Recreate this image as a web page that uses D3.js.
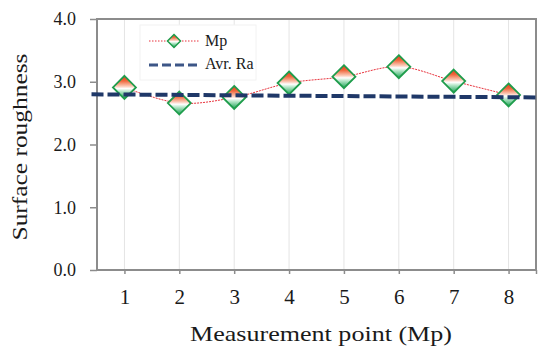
<!DOCTYPE html>
<html>
<head>
<meta charset="utf-8">
<script src="https://cdn.jsdelivr.net/npm/d3@7"></script>
<style>
  html, body { margin: 0; padding: 0; background: #fff; }
  svg { display: block; font-family: "Liberation Serif", "Times New Roman", serif; }
</style>
</head>
<body>
<svg id="chart"></svg>
<script>
const points = [1, 2, 3, 4, 5, 6, 7, 8];
const mpValues = [2.91, 2.66, 2.75, 2.98, 3.08, 3.24, 3.01, 2.79];
// average Ra line, given at its two ends
const avrX = [0.4, 8.5];
const avrValues = [2.80, 2.75];
const yTicks = [0, 1, 2, 3, 4];
const xTitle = "Measurement point (Mp)";
const yTitle = "Surface roughness";
const legendLabels = ["Mp", "Avr. Ra"];

const width = 550;
const height = 357;
const margin = { top: 19, right: 14, bottom: 87, left: 97 };

const svg = d3.select("#chart").attr("width", width).attr("height", height);

const x = d3.scaleLinear()
  .domain([0.5, 8.5])
  .range([margin.left, width - margin.right]);

const y = d3.scaleLinear()
  .domain([0, 4])
  .range([height - margin.bottom, margin.top]);

const defs = svg.append("defs");
const grad = defs.append("linearGradient")
  .attr("id", "mk")
  .attr("x1", 0).attr("y1", 0).attr("x2", 0).attr("y2", 1);
[
  [0, "#e63a17"],
  [0.22, "#f0683e"],
  [0.45, "#fbcbb8"],
  [0.55, "#ffffff"],
  [0.68, "#b4e6c8"],
  [1, "#17a052"],
].forEach(([o, c]) => grad.append("stop").attr("offset", o).attr("stop-color", c));

// vertical grid lines at each measurement point
svg.append("g")
  .selectAll("line")
  .data(points)
  .join("line")
  .attr("x1", (d) => x(d))
  .attr("x2", (d) => x(d))
  .attr("y1", y(0))
  .attr("y2", y(4))
  .attr("stroke", "#e4e4e4")
  .attr("stroke-width", 1);

// axes
const yAxis = svg.append("g")
  .attr("transform", `translate(${margin.left},0)`)
  .call(d3.axisLeft(y).tickValues(yTicks).tickFormat(d3.format(".1f")).tickSize(7).tickPadding(14));

const xAxis = svg.append("g")
  .attr("transform", `translate(0,${y(0)})`)
  .call(d3.axisBottom(x).tickValues(points.concat([8.5])).tickFormat((d) => (d % 1 ? "" : d)).tickSize(4).tickPadding(15));

[yAxis, xAxis].forEach((a) => {
  a.select(".domain").remove();
  a.selectAll(".tick line").attr("stroke", "#8c8c8c").attr("stroke-width", 1.5);
  a.selectAll(".tick text").attr("fill", "#1a1a1a").attr("font-family", "Liberation Serif, serif");
});
yAxis.selectAll(".tick text").attr("font-size", 18);
xAxis.selectAll(".tick text").attr("font-size", 21);

// plot frame
svg.append("rect")
  .attr("x", x(0.5))
  .attr("y", y(4))
  .attr("width", x(8.5) - x(0.5))
  .attr("height", y(0) - y(4))
  .attr("fill", "none")
  .attr("stroke", "#8c8c8c")
  .attr("stroke-width", 2);

// Mp series
const line = d3.line()
  .x((d, i) => x(points[i]))
  .y((d) => y(d))
  .curve(d3.curveCatmullRom.alpha(0.5));

svg.append("path")
  .datum(mpValues)
  .attr("d", line)
  .attr("fill", "none")
  .attr("stroke", "#e8323c")
  .attr("stroke-width", 1)
  .attr("stroke-dasharray", "2,1");

function diamond(r) {
  return `M0,${-r}L${r},0L0,${r}L${-r},0Z`;
}

svg.append("g")
  .selectAll("path")
  .data(mpValues)
  .join("path")
  .attr("transform", (d, i) => `translate(${x(points[i])},${y(d)})`)
  .attr("d", diamond(11.5))
  .attr("fill", "url(#mk)")
  .attr("stroke", "#1f9d4c")
  .attr("stroke-width", 1.8)
  .attr("stroke-linejoin", "miter");

// average Ra
svg.append("path")
  .datum(avrValues)
  .attr("d", d3.line().x((d, i) => x(avrX[i])).y((d) => y(d)))
  .attr("fill", "none")
  .attr("stroke", "#1f3868")
  .attr("stroke-width", 4)
  .attr("stroke-dasharray", "12,4");

// legend
const lg = svg.append("g").attr("transform", "translate(140,25)");
lg.append("rect")
  .attr("width", 116)
  .attr("height", 55)
  .attr("fill", "#fff")
  .attr("stroke", "#f2f2f2");

lg.append("line")
  .attr("x1", 9).attr("x2", 59).attr("y1", 16).attr("y2", 16)
  .attr("stroke", "#e8323c").attr("stroke-width", 1).attr("stroke-dasharray", "1.5,1.5");
lg.append("path")
  .attr("transform", "translate(34,16)")
  .attr("d", diamond(6.5))
  .attr("fill", "url(#mk)")
  .attr("stroke", "#1f9d4c")
  .attr("stroke-width", 1.5);
lg.append("line")
  .attr("x1", 9).attr("x2", 58).attr("y1", 40).attr("y2", 40)
  .attr("stroke", "#3d5687").attr("stroke-width", 3).attr("stroke-dasharray", "9,4");

lg.selectAll("text")
  .data(legendLabels)
  .join("text")
  .attr("x", 65)
  .attr("y", (d, i) => 21 + i * 23)
  .attr("font-size", 16)
  .attr("fill", "#1a1a1a")
  .text((d) => d);

// axis titles
svg.append("text")
  .attr("x", 321)
  .attr("y", 341)
  .attr("text-anchor", "middle")
  .attr("font-size", 21)
  .attr("fill", "#1a1a1a")
  .attr("textLength", 262)
  .attr("lengthAdjust", "spacingAndGlyphs")
  .text(xTitle);

svg.append("text")
  .attr("transform", "translate(27,147) rotate(-90)")
  .attr("text-anchor", "middle")
  .attr("font-size", 21)
  .attr("fill", "#1a1a1a")
  .attr("textLength", 187)
  .attr("lengthAdjust", "spacingAndGlyphs")
  .text(yTitle);
</script>
</body>
</html>
